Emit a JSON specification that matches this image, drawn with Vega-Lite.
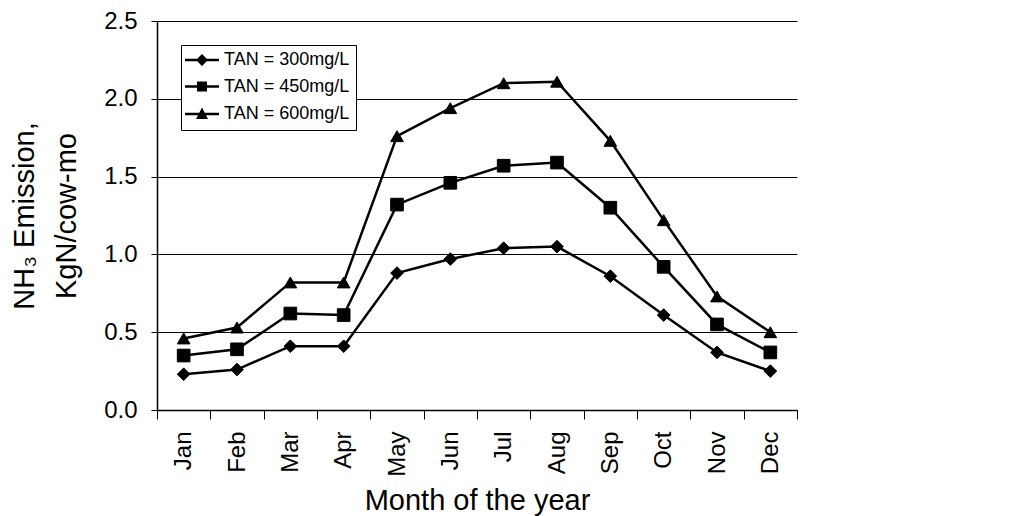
{
  "$schema": "https://vega.github.io/schema/vega-lite/v6.json",
  "autosize": {"type": "none"},
  "padding": {"left": 157, "top": 21, "right": 212, "bottom": 106},
  "width": 640,
  "height": 389,
  "background": "white",
  "config": {
    "view": {"stroke": null},
    "font": "Liberation Sans"
  },
  "data": {
    "values": [
      {"month": "Jan", "series": "TAN = 300mg/L", "value": 0.23},
      {"month": "Feb", "series": "TAN = 300mg/L", "value": 0.26},
      {"month": "Mar", "series": "TAN = 300mg/L", "value": 0.41},
      {"month": "Apr", "series": "TAN = 300mg/L", "value": 0.41},
      {"month": "May", "series": "TAN = 300mg/L", "value": 0.88},
      {"month": "Jun", "series": "TAN = 300mg/L", "value": 0.97},
      {"month": "Jul", "series": "TAN = 300mg/L", "value": 1.04},
      {"month": "Aug", "series": "TAN = 300mg/L", "value": 1.05},
      {"month": "Sep", "series": "TAN = 300mg/L", "value": 0.86},
      {"month": "Oct", "series": "TAN = 300mg/L", "value": 0.61},
      {"month": "Nov", "series": "TAN = 300mg/L", "value": 0.37},
      {"month": "Dec", "series": "TAN = 300mg/L", "value": 0.25},
      {"month": "Jan", "series": "TAN = 450mg/L", "value": 0.35},
      {"month": "Feb", "series": "TAN = 450mg/L", "value": 0.39},
      {"month": "Mar", "series": "TAN = 450mg/L", "value": 0.62},
      {"month": "Apr", "series": "TAN = 450mg/L", "value": 0.61},
      {"month": "May", "series": "TAN = 450mg/L", "value": 1.32},
      {"month": "Jun", "series": "TAN = 450mg/L", "value": 1.46},
      {"month": "Jul", "series": "TAN = 450mg/L", "value": 1.57},
      {"month": "Aug", "series": "TAN = 450mg/L", "value": 1.59},
      {"month": "Sep", "series": "TAN = 450mg/L", "value": 1.30},
      {"month": "Oct", "series": "TAN = 450mg/L", "value": 0.92},
      {"month": "Nov", "series": "TAN = 450mg/L", "value": 0.55},
      {"month": "Dec", "series": "TAN = 450mg/L", "value": 0.37},
      {"month": "Jan", "series": "TAN = 600mg/L", "value": 0.46},
      {"month": "Feb", "series": "TAN = 600mg/L", "value": 0.53},
      {"month": "Mar", "series": "TAN = 600mg/L", "value": 0.82},
      {"month": "Apr", "series": "TAN = 600mg/L", "value": 0.82},
      {"month": "May", "series": "TAN = 600mg/L", "value": 1.76},
      {"month": "Jun", "series": "TAN = 600mg/L", "value": 1.94},
      {"month": "Jul", "series": "TAN = 600mg/L", "value": 2.10},
      {"month": "Aug", "series": "TAN = 600mg/L", "value": 2.11},
      {"month": "Sep", "series": "TAN = 600mg/L", "value": 1.73},
      {"month": "Oct", "series": "TAN = 600mg/L", "value": 1.22},
      {"month": "Nov", "series": "TAN = 600mg/L", "value": 0.73},
      {"month": "Dec", "series": "TAN = 600mg/L", "value": 0.50}
    ]
  },
  "encoding": {
    "x": {
      "field": "month", "type": "ordinal", "sort": null,
      "scale": {"paddingInner": 0, "paddingOuter": 0},
      "axis": {
        "title": "Month of the year", "titleFontSize": 29, "titleFontWeight": "normal", "titleColor": "black", "titlePadding": 10,
        "labelAngle": -90, "labelFontSize": 24, "labelColor": "black", "labelPadding": 12, "labelAlign": "right", "labelBaseline": "middle",
        "tickBand": "extent", "tickSize": 9, "tickColor": "black", "domainColor": "black", "domainWidth": 1.5,
        "grid": false
      }
    },
    "y": {
      "field": "value", "type": "quantitative",
      "scale": {"domain": [0, 2.5]},
      "axis": {
        "title": ["NH₃ Emission,", "KgN/cow-mo"], "titleFontSize": 29, "titleFontWeight": "normal", "titleColor": "black", "titlePadding": 22, "titleLineHeight": 42,
        "values": [0, 0.5, 1, 1.5, 2, 2.5], "format": ".1f",
        "labelFontSize": 24, "labelColor": "black", "labelPadding": 14,
        "tickSize": 6, "tickColor": "black", "domainColor": "black", "domainWidth": 1.5,
        "grid": true, "gridColor": "black", "gridWidth": 1
      }
    }
  },
  "layer": [
    {
      "mark": {"type": "line", "color": "black", "strokeWidth": 2.5},
      "encoding": {"detail": {"field": "series", "type": "nominal"}}
    },
    {
      "mark": {"type": "point", "filled": true, "color": "black", "stroke": "black", "strokeWidth": 1, "opacity": 1, "size": 160},
      "encoding": {
        "shape": {
          "field": "series", "type": "nominal",
          "scale": {"domain": ["TAN = 300mg/L", "TAN = 450mg/L", "TAN = 600mg/L"], "range": ["diamond", "square", "triangle-up"]},
          "legend": null
        }
      }
    },
    {
      "mark": {"type": "point", "filled": false, "fill": "black", "stroke": "black", "strokeWidth": 2.5, "size": 0},
      "encoding": {
        "shape": {
          "field": "series", "type": "nominal",
          "scale": {"domain": ["TAN = 300mg/L", "TAN = 450mg/L", "TAN = 600mg/L"], "range": ["M-3.4,-0.25H3.4V0.25H-3.4ZM0,-1.2L1.2,0L0,1.2L-1.2,0Z", "M-3.4,-0.25H3.4V0.25H-3.4ZM-1,-1H1V1H-1Z", "M-3.4,-0.25H3.4V0.25H-3.4ZM0,-1.3L1.2,1L-1.2,1Z"]},
          "legend": {
            "title": null, "orient": "none", "legendX": 24, "legendY": 24,
            "strokeColor": "black", "fillColor": "white", "padding": 6,
            "labelFontSize": 18, "labelColor": "black", "rowPadding": 5.5, "labelOffset": 13,
            "symbolOffset": 6, "symbolSize": 100, "symbolOpacity": 1,
            "symbolFillColor": "black", "symbolStrokeColor": "black", "symbolStrokeWidth": 2.5
          }
        }
      }
    }
  ],
  "resolve": {"scale": {"shape": "independent"}, "legend": {"shape": "independent"}}
}
